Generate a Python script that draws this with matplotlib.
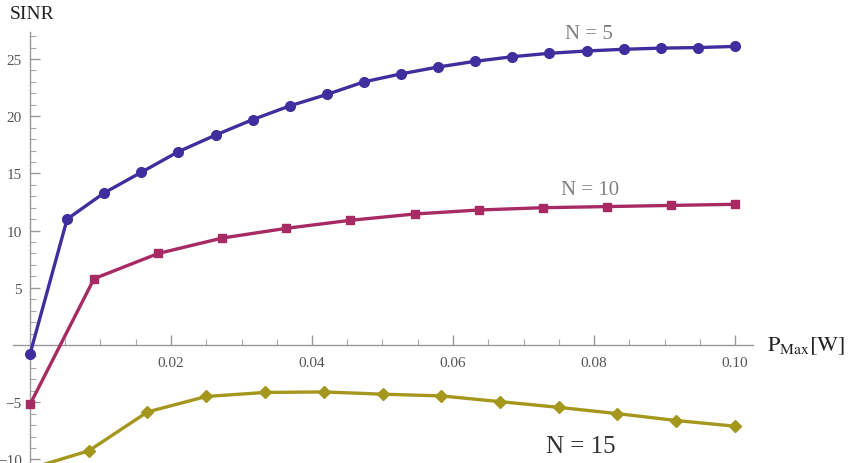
import numpy as np
import matplotlib
matplotlib.use('Agg')
import matplotlib.pyplot as plt
from matplotlib.ticker import FixedLocator

# data
p5 = np.linspace(0, 0.1, 20)
sinr5 = [-0.8, 11.0, 13.3, 15.1, 16.9, 18.35, 19.7, 20.9, 21.9, 23.0,
         23.7, 24.3, 24.8, 25.2, 25.5, 25.7, 25.85, 25.95, 26.0, 26.1]
p10 = np.linspace(0, 0.1, 12)
sinr10 = [-5.2, 5.8, 8.0, 9.35, 10.2, 10.9, 11.45, 11.8, 12.0, 12.1, 12.2, 12.3]
p15 = np.linspace(0, 0.1, 13)
sinr15 = [-10.8, -9.25, -5.85, -4.5, -4.15, -4.1, -4.3, -4.45, -4.95,
          -5.45, -6.0, -6.6, -7.1]
xticks = [0.02, 0.04, 0.06, 0.08, 0.10]
xticklabels = ['0.02', '0.04', '0.06', '0.08', '0.10']
yticks = [-10, -5, 5, 10, 15, 20, 25]
yticklabels = ['\u221210', '\u22125', '5', '10', '15', '20', '25']

plt.rcParams['font.family'] = ['Liberation Serif', 'DejaVu Serif']
plt.rcParams['mathtext.fontset'] = 'stix'

fig = plt.figure(figsize=(8.56, 4.64), dpi=100)
ax = fig.add_axes([0, 0, 1, 1])
ax.set_xlim(-30 / 7050, 826 / 7050)
ax.set_ylim(-118 / 11.44, 346 / 11.44)

blue = '#3f2f9e'
red = '#a82a62'
olive = '#a5961e'
ax.plot(p5, sinr5, color=blue, lw=2.4, marker='o', ms=7, zorder=3)
ax.plot(p10, sinr10, color=red, lw=2.4, marker='s', ms=6, zorder=3)
ax.plot(p15, sinr15, color=olive, lw=2.4, marker='D', ms=6, zorder=3)

# axes through the origin, Mathematica style
for s in ['top', 'right']:
    ax.spines[s].set_visible(False)
ax.spines['bottom'].set_position(('data', 0))
ax.spines['left'].set_position(('data', 0))
ax.spines['bottom'].set_bounds(-0.0024, 0.1025)
ax.spines['left'].set_bounds(-10.5, 27.4)
for s in ['bottom', 'left']:
    ax.spines[s].set_color('#999999')
    ax.spines[s].set_linewidth(1.0)

ax.xaxis.set_major_locator(FixedLocator(xticks))
ax.set_xticklabels(xticklabels)
ax.xaxis.set_minor_locator(FixedLocator(np.arange(0.005, 0.1, 0.005)))
ax.yaxis.set_major_locator(FixedLocator(yticks))
ax.set_yticklabels(yticklabels)
ax.yaxis.set_minor_locator(FixedLocator(np.arange(-10, 28, 1)))
ax.tick_params(axis='both', which='major', direction='in', length=7, width=1,
               color='#999999', labelsize=11, labelcolor='#555555')
ax.tick_params(axis='both', which='minor', direction='in', length=4, width=0.8,
               color='#aaaaaa')
ax.tick_params(axis='x', pad=8)
ax.tick_params(axis='y', pad=6)

ax.text(10 / 7050 - 30 / 7050, 346 / 11.44 - 14 / 11.44, 'SINR', fontsize=14,
        color='#222222', ha='left', va='center')
ax.text(0.1045, 0, r'$\mathrm{P_{Max}[W]}$', fontsize=16, color='#222222',
        ha='left', va='center')

ax.text(0.0793, 27.2, 'N = 5', fontsize=15, color='#808080', ha='center', va='center')
ax.text(0.0794, 13.55, 'N = 10', fontsize=15, color='#808080', ha='center', va='center')
ax.text(0.0782, -8.8, 'N = 15', fontsize=18, color='#333333', ha='center', va='center')

fig.savefig('out.png', dpi=100)
